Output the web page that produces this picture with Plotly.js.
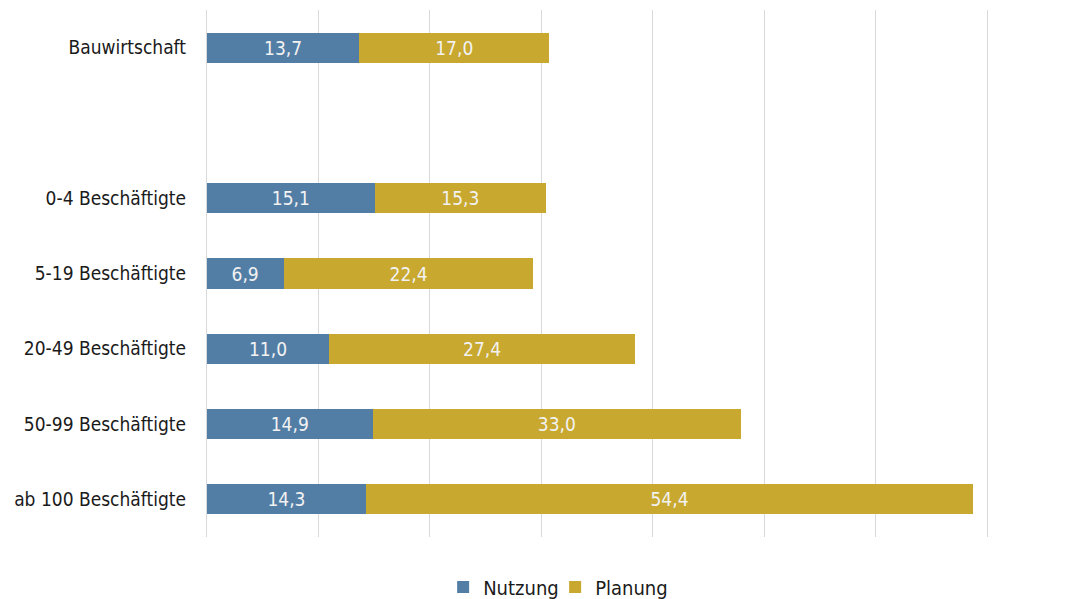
<!DOCTYPE html>
<html>
<head>
<meta charset="utf-8">
<script src="https://cdn.plot.ly/plotly-3.0.1.min.js"></script>
<style>html,body{margin:0;padding:0;background:#fff;}#chart{width:1088px;height:599px;}</style>
</head>
<body>
<div id="chart"></div>
<script>
var categories = ["Bauwirtschaft", "", "0-4 Beschäftigte", "5-19 Beschäftigte", "20-49 Beschäftigte", "50-99 Beschäftigte", "ab 100 Beschäftigte"];
var positions = [0, 1, 2, 3, 4, 5, 6];
var nutzung = [13.7, null, 15.1, 6.9, 11.0, 14.9, 14.3];
var planung = [17.0, null, 15.3, 22.4, 27.4, 33.0, 54.4];

var font = "Liberation Sans Narrow, DejaVu Sans Condensed, Liberation Sans, Arial, sans-serif";
var common = {
  type: 'bar', orientation: 'h', y: positions, width: 0.4,
  texttemplate: '%{x:.1f}', textposition: 'inside', insidetextanchor: 'middle',
  textfont: {family: font, size: 19, color: '#f2f2f2'},
  hoverinfo: 'x'
};
var t1 = Object.assign({}, common, {name: 'Nutzung', x: nutzung, marker: {color: '#527EA6'}});
var t2 = Object.assign({}, common, {name: 'Planung', x: planung, marker: {color: '#C8A82F'}});

var layout = {
  barmode: 'stack',
  separators: ',.',
  width: 1088, height: 599,
  margin: {l: 205, r: 99, t: 10, b: 62, autoexpand: false},
  paper_bgcolor: '#fff', plot_bgcolor: '#fff',
  font: {family: font, size: 19, color: '#1a1a1a'},
  xaxis: {range: [-0.15, 70.15], tickmode: 'array', tickvals: [0, 10, 20, 30, 40, 50, 60, 70], showticklabels: false, showgrid: true, gridcolor: '#d9d9d9', gridwidth: 1, zeroline: false, showline: false, ticks: ''},
  yaxis: {range: [6.5, -0.5], tickmode: 'array', tickvals: positions, ticktext: categories, showgrid: false, zeroline: false, ticks: '', ticklabelstandoff: 18, tickfont: {family: font, size: 19, color: '#1a1a1a'}},
  showlegend: true,
  legend: {orientation: 'h', x: 0.4466, xanchor: 'center', y: -0.095, yanchor: 'middle', font: {family: font, size: 20, color: '#1a1a1a'}, itemwidth: 30, entrywidth: 67, traceorder: 'normal'}
};
Plotly.newPlot('chart', [t1, t2], layout, {displayModeBar: false});
</script>
</body>
</html>
